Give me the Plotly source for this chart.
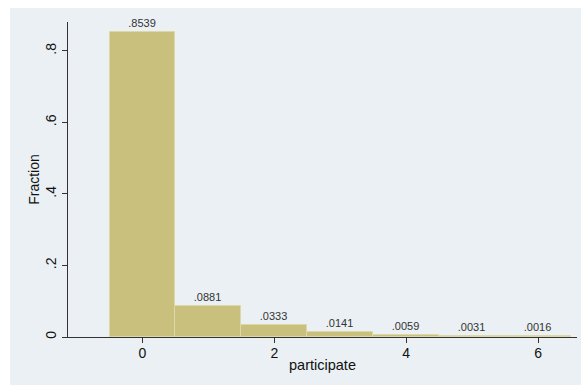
import plotly.graph_objects as go

categories = [0, 1, 2, 3, 4, 5, 6]
fractions = [0.8539, 0.0881, 0.0333, 0.0141, 0.0059, 0.0031, 0.0016]
bar_labels = [".8539", ".0881", ".0333", ".0141", ".0059", ".0031", ".0016"]
y_tick_vals = [0, 0.2, 0.4, 0.6, 0.8]
y_tick_text = ["0", ".2", ".4", ".6", ".8"]
x_tick_vals = [0, 2, 4, 6]
x_tick_text = ["0", "2", "4", "6"]

W, H = 581, 385
L, R, T, B = 68, 4, 22, 48
pw, ph = W - L - R, H - T - B

fig = go.Figure()
fig.add_trace(go.Bar(
    x=categories, y=fractions, width=1,
    marker=dict(color="#c8c07c", line=dict(color="#ddd8a8", width=1)),
    text=bar_labels, textposition="outside", cliponaxis=False,
    textfont=dict(size=11, color="#333333"),
))

fig.update_layout(
    width=W, height=H,
    margin=dict(l=L, r=R, t=T, b=B, pad=0),
    paper_bgcolor="white", plot_bgcolor="white",
    font=dict(family="Liberation Sans, Arial, sans-serif", color="#111111"),
    showlegend=False,
    bargap=0,
    shapes=[dict(
        type="rect", xref="paper", yref="paper", layer="below",
        x0=(10 - L) / pw, x1=(W - L) / pw,
        y0=(T + ph - H) / ph, y1=(T + ph - 8) / ph,
        fillcolor="#eaf0f4", line=dict(width=0),
    )],
    xaxis=dict(
        range=[-1.13, 6.59], tickvals=x_tick_vals, ticktext=x_tick_text,
        ticks="outside", ticklen=5, tickcolor="#333333",
        showgrid=False, zeroline=False, showline=True, linecolor="#333333", linewidth=1,
        tickfont=dict(size=14), ticklabelstandoff=-2,
        title=dict(text="participate", font=dict(size=14.5), standoff=0),
    ),
    yaxis=dict(
        range=[0, 0.881], tickvals=y_tick_vals, ticktext=y_tick_text,
        ticks="outside", ticklen=5, tickcolor="#333333", tickangle=-90,
        showgrid=True, gridcolor="#eaf0f4", gridwidth=1,
        zeroline=False, showline=True, linecolor="#333333", linewidth=1,
        tickfont=dict(size=14), ticklabelstandoff=0,
        title=dict(text="Fraction", font=dict(size=14), standoff=0),
    ),
)

fig.write_html("out.html")
